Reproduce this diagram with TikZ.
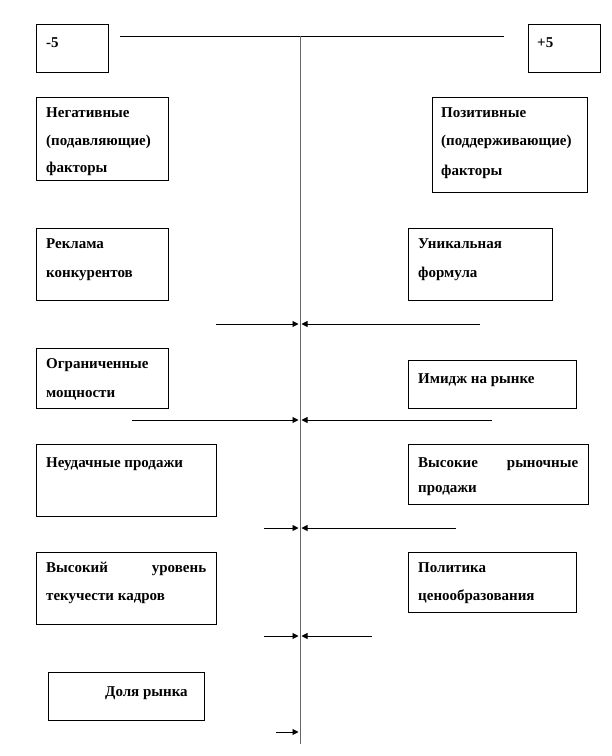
\documentclass[tikz,border=0pt]{standalone}
\usepackage{fontspec}
\setmainfont{Liberation Serif}
\usetikzlibrary{arrows.meta}
\tikzset{
  box/.style={draw=black, line width=0.9pt, rectangle, inner sep=0pt, anchor=north west},
  txt/.style={anchor=base west, inner sep=0pt, font=\fontsize{15}{17}\selectfont\bfseries},
  axisline/.style={line width=0.9pt, black},
  vaxis/.style={line width=1pt, black!60},
  arr/.style={line width=0.9pt, -{Triangle[length=6pt,width=6pt]}}
}
\begin{document}
\begin{tikzpicture}[x=1pt,y=-1pt]
\useasboundingbox (0,0) rectangle (612,756);
% boxes
\node[box, minimum width=72pt, minimum height=48pt] (m5) at (36,24) {};
\node[box, minimum width=72pt, minimum height=48pt] (p5) at (528,24) {};
\node[box, minimum width=132pt, minimum height=83pt] (neg) at (36,97) {};
\node[box, minimum width=155pt, minimum height=95pt] (pos) at (432,97) {};
\node[box, minimum width=132pt, minimum height=72pt] (rek) at (36,228) {};
\node[box, minimum width=144pt, minimum height=72pt] (uni) at (408,228) {};
\node[box, minimum width=132pt, minimum height=60pt] (ogr) at (36,348) {};
\node[box, minimum width=168pt, minimum height=48pt] (img) at (408,360) {};
\node[box, minimum width=180pt, minimum height=72pt] (neu) at (36,444) {};
\node[box, minimum width=180pt, minimum height=60pt] (vys) at (408,444) {};
\node[box, minimum width=180pt, minimum height=72pt] (tek) at (36,552) {};
\node[box, minimum width=168pt, minimum height=60pt] (pol) at (408,552) {};
\node[box, minimum width=156pt, minimum height=48pt] (dol) at (48,672) {};
% texts
\node[txt] (m5t) at (46,47) {-5};
\node[txt] (p5t) at (537,47) {+5};
\node[txt] (neg1) at (46,117) {Негативные};
\node[txt] (neg2) at (46,145) {(подавляющие)};
\node[txt] (neg3) at (46,172) {факторы};
\node[txt] (pos1) at (441,117) {Позитивные};
\node[txt] (pos2) at (441,145) {(поддерживающие)};
\node[txt] (pos3) at (441,175) {факторы};
\node[txt] (rek1) at (46,248) {Реклама};
\node[txt] (rek2) at (46,277) {конкурентов};
\node[txt] (uni1) at (418,248) {Уникальная};
\node[txt] (uni2) at (418,277) {формула};
\node[txt] (ogr1) at (46,368) {Ограниченные};
\node[txt] (ogr2) at (46,397) {мощности};
\node[txt] (img1) at (418,383) {Имидж на рынке};
\node[txt] (neu1) at (46,467) {Неудачные продажи};
\node[txt] (vys1) at (418,467) {\makebox[160pt][s]{Высокие\hfill рыночные}};
\node[txt] (vys2) at (418,492) {продажи};
\node[txt] (tek1) at (46,572) {\makebox[160pt][s]{Высокий\hfill уровень}};
\node[txt] (tek2) at (46,600) {текучести кадров};
\node[txt] (pol1) at (418,572) {Политика};
\node[txt] (pol2) at (418,600) {ценообразования};
\node[txt] (dol1) at (105,696) {Доля рынка};
% axis
\coordinate (hl) at (120,36);
\coordinate (hr) at (504,36);
\coordinate (vt) at (300,36);
\coordinate (vb) at (300,744);
\draw[axisline] (hl) -- (hr);
\draw[vaxis] (vt) -- (vb);
% arrows
\coordinate (a1l) at (216,324); \coordinate (a1r) at (480,324);
\coordinate (a1lt) at (298.5,324); \coordinate (a1rt) at (301.5,324);
\coordinate (a2l) at (132,420); \coordinate (a2r) at (492,420);
\coordinate (a2lt) at (298.5,420); \coordinate (a2rt) at (301.5,420);
\coordinate (a3l) at (264,528); \coordinate (a3r) at (456,528);
\coordinate (a3lt) at (298.5,528); \coordinate (a3rt) at (301.5,528);
\coordinate (a4l) at (264,636); \coordinate (a4r) at (372,636);
\coordinate (a4lt) at (298.5,636); \coordinate (a4rt) at (301.5,636);
\coordinate (a5l) at (276,732); \coordinate (a5lt) at (298.5,732);
\draw[arr] (a1l) -- (a1lt); \draw[arr] (a1r) -- (a1rt);
\draw[arr] (a2l) -- (a2lt); \draw[arr] (a2r) -- (a2rt);
\draw[arr] (a3l) -- (a3lt); \draw[arr] (a3r) -- (a3rt);
\draw[arr] (a4l) -- (a4lt); \draw[arr] (a4r) -- (a4rt);
\draw[arr] (a5l) -- (a5lt);
\end{tikzpicture}
\end{document}
